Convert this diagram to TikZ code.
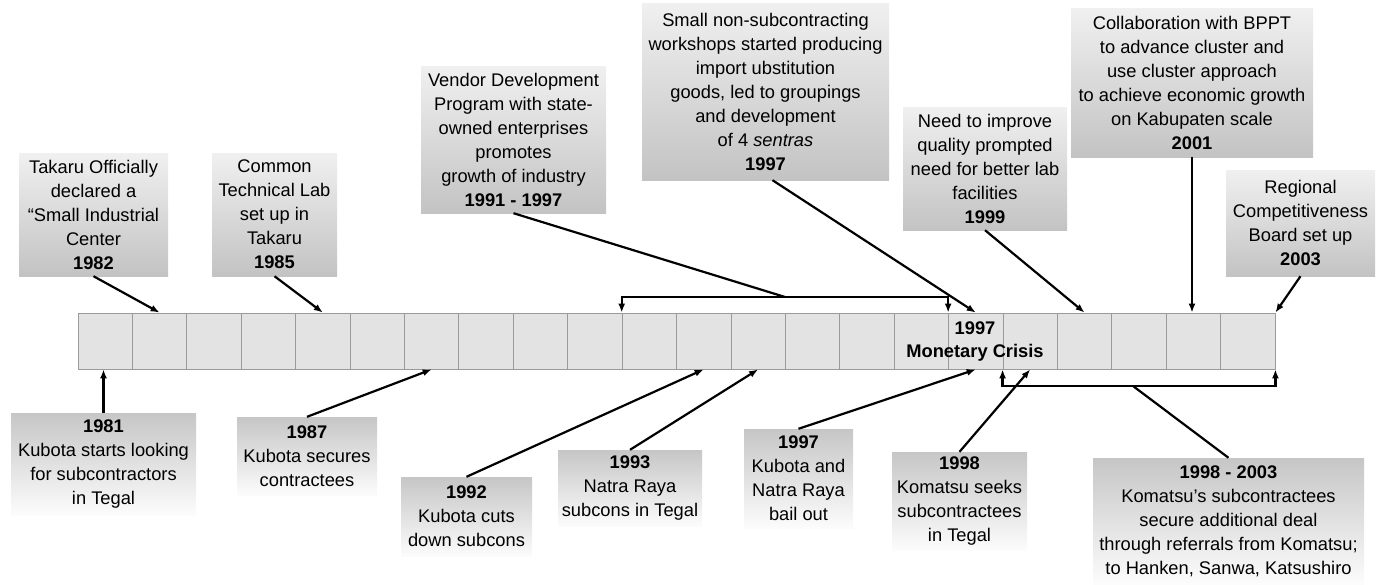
\documentclass[tikz,border=0pt]{standalone}
\usepackage{fontspec}
\setmainfont{Liberation Sans}
\usetikzlibrary{arrows.meta,calc}
\definecolor{upTop}{HTML}{F0F0F0}
\definecolor{upBot}{HTML}{C3C3C3}
\definecolor{lowTop}{HTML}{C6C6C6}
\definecolor{lowBot}{HTML}{FCFCFC}
\definecolor{cellFill}{HTML}{E3E3E3}
\definecolor{cellLine}{HTML}{9A9A9A}
\begin{document}
\begin{tikzpicture}[x=1pt,y=-1pt,
  txt/.style={inner sep=0pt, align=center, font=\fontsize{18.3}{24}\selectfont},
  upbox/.style={txt, top color=upTop, bottom color=upBot},
  lowbox/.style={txt, top color=lowTop, bottom color=lowBot},
  cell/.style={draw=cellLine, fill=cellFill, line width=0.8pt, minimum width=54.41pt, minimum height=56pt, inner sep=0pt},
  conn/.style={line width=2.2pt, black},
  arr/.style={conn, -{Latex[length=9pt,width=7pt]}},
  darr/.style={conn, {Latex[length=9pt,width=7pt]}-{Latex[length=9pt,width=7pt]}}
]
\useasboundingbox (0,0) rectangle (1376,584);

% timeline bar
\foreach \i in {1,...,22}
  \node[cell] (c\i) at ({78+(\i-0.5)*54.41}, 341) {};
\node[txt, font=\fontsize{18.3}{23}\selectfont\bfseries] (mc) at (975,342) {1997\\Monetary Crisis};

% upper boxes
\node[upbox, minimum width=149pt, minimum height=123pt] (T1) at (93.5,214.5)
  {Takaru Officially\\declared a\\“Small Industrial\\Center\\\textbf{1982}};
\node[upbox, minimum width=125pt, minimum height=123pt] (T2) at (274.5,214.5)
  {Common\\Technical Lab\\set up in\\Takaru\\\textbf{1985}};
\node[upbox, minimum width=185pt, minimum height=147pt] (T3) at (513.5,139.5)
  {Vendor Development\\Program with state-\\owned enterprises\\promotes\\growth of industry\\\textbf{1991 - 1997}};
\node[upbox, minimum width=247pt, minimum height=177pt] (T4) at (765.5,91.5)
  {Small non-subcontracting\\workshops started producing\\import ubstitution\\goods, led to groupings\\and development\\of 4 \textit{sentras}\\\textbf{1997}};
\node[upbox, minimum width=164pt, minimum height=123pt] (T5) at (985,168.5)
  {Need to improve\\quality prompted\\need for better lab\\facilities\\\textbf{1999}};
\node[upbox, minimum width=242pt, minimum height=149pt] (T6) at (1192,82.5)
  {Collaboration with BPPT\\to advance cluster and\\use cluster approach\\to achieve economic growth\\on Kabupaten scale\\\textbf{2001}};
\node[upbox, minimum width=149pt, minimum height=106pt] (T7) at (1300.5,223)
  {Regional\\Competitiveness\\Board set up\\\textbf{2003}};

% lower boxes
\node[lowbox, minimum width=185pt, minimum height=102pt] (B1) at (103.5,464)
  {\textbf{1981}\\Kubota starts looking\\for subcontractors\\in Tegal};
\node[lowbox, minimum width=140pt, minimum height=78pt] (B2) at (307,456)
  {\textbf{1987}\\Kubota secures\\contractees};
\node[lowbox, minimum width=131pt, minimum height=79pt] (B3) at (466.5,516.5)
  {\textbf{1992}\\Kubota cuts\\down subcons};
\node[lowbox, minimum width=144pt, minimum height=76pt] (B4) at (630,488)
  {\textbf{1993}\\Natra Raya\\subcons in Tegal};
\node[lowbox, minimum width=109pt, minimum height=99pt] (B5) at (798.5,478.5)
  {\textbf{1997}\\Kubota and\\Natra Raya\\bail out};
\node[lowbox, minimum width=135pt, minimum height=98pt] (B6) at (959.5,501)
  {\textbf{1998}\\Komatsu seeks\\subcontractees\\in Tegal};
\node[lowbox, minimum width=271pt, minimum height=126pt] (B7) at (1228.5,521)
  {\textbf{1998 - 2003}\\Komatsu’s subcontractees\\secure additional deal\\through referrals from Komatsu;\\to Hanken, Sanwa, Katsushiro};

% bracket levels
\coordinate (topbr) at (0,297);
\coordinate (botbr) at (0,386);
\coordinate (tbm) at (785,297);
\coordinate (bbm) at (1133,386);

% upper connectors
\draw[arr] (T1.south) -- (c2.north);
\draw[arr] (T2.south) -- (c5.north);
\draw[darr] (c11.north west) -- (c11.north west |- topbr) -- (c17.north west |- topbr) -- (c17.north west);
\draw[conn] (T3.south) -- (tbm);
\draw[arr] ($(T4.south)+(7,0)$) -- (c17.north);
\draw[arr] (T5.south) -- (c19.north);
\draw[arr] (T6.south) -- (T6.south |- c21.north);
\draw[arr] (T7.south) -- (c22.north east);

% lower connectors
\draw[arr] (B1.north) -- (B1.north |- c1.south);
\draw[arr] (B2.north) -- (c7.south);
\draw[arr] (B3.north) -- (c12.south);
\draw[arr] (B4.north) -- (c13.south);
\draw[arr] (B5.north) -- (c17.south);
\draw[arr] (B6.north) -- (c18.south);
\draw[darr] (c18.south west) -- (c18.south west |- botbr) -- (c22.south east |- botbr) -- (c22.south east);
\draw[conn] (B7.north) -- (bbm);
\end{tikzpicture}
\end{document}
